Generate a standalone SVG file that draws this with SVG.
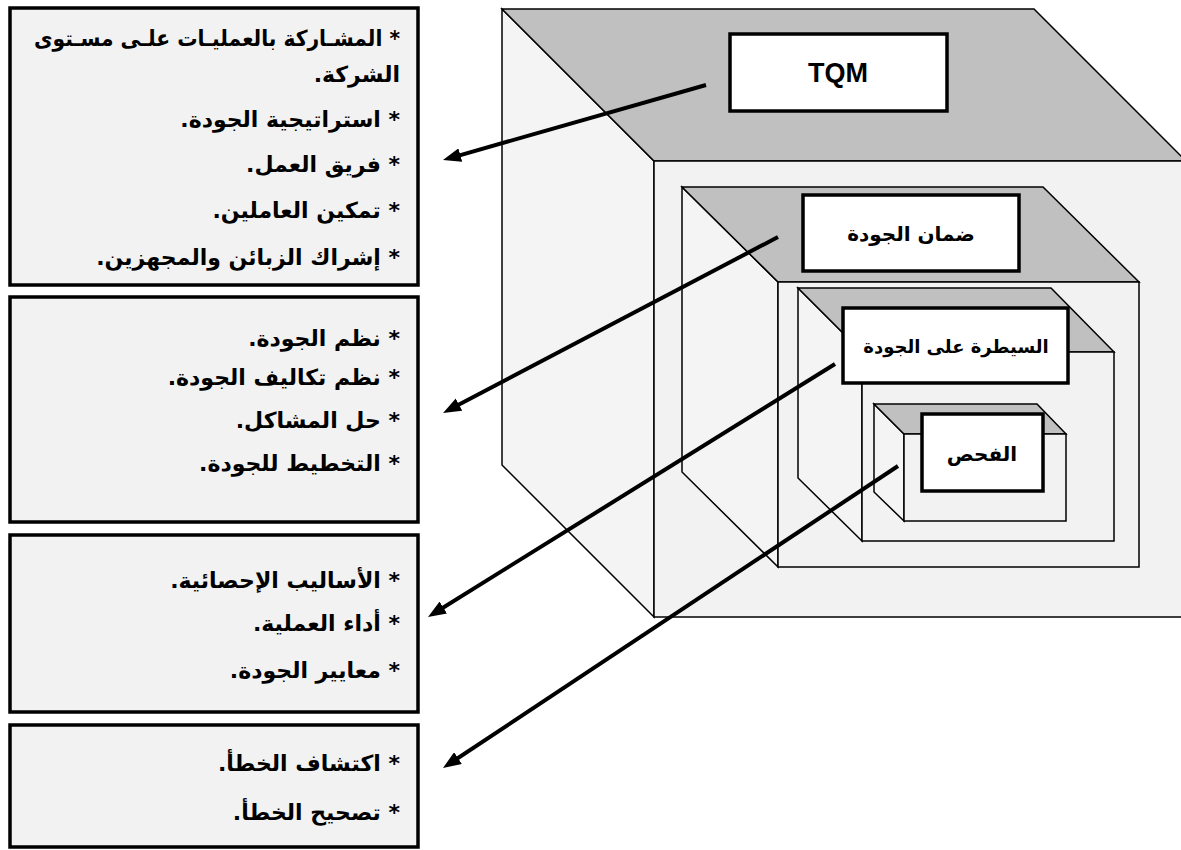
<svg xmlns="http://www.w3.org/2000/svg" width="1181" height="850" viewBox="0 0 1181 850">
<style>
.top{fill:#c0c0c0;stroke:#000;stroke-width:1.5;stroke-linejoin:miter}
.side{fill:#f4f4f4;stroke:#000;stroke-width:1.5}
.front{fill:#f2f2f2;stroke:#000;stroke-width:1.5}
.lbl{fill:#fff;stroke:#000;stroke-width:3.5}
.list{fill:#f2f2f2;stroke:#000;stroke-width:3.5}
.ar{font-family:"DejaVu Sans",sans-serif;font-weight:bold;fill:#000}
.lt{font-size:22px}
.bt{font-size:20px;text-anchor:middle}
.en{font-family:"Liberation Sans",Arial,sans-serif;font-weight:bold;font-size:27px;text-anchor:middle}
.arrow{stroke:#000;stroke-width:4;fill:none;marker-end:url(#ah)}
</style>
<defs>
<marker id="ah" markerUnits="userSpaceOnUse" markerWidth="18" markerHeight="14" viewBox="0 0 18 14" refX="8" refY="7" orient="auto">
<path d="M0,0 L18,7 L0,14 z" fill="#000"/>
</marker>
</defs>
<rect width="1181" height="850" fill="#fff"/>

<g id="cube-tqm">
<polygon class="side" points="502,9 654,161 654,617 502,465"/>
<polygon class="top" points="502,9 1034,9 1186,161 654,161"/>
<rect class="front" x="654" y="161" width="540" height="456"/>
</g>
<g id="cube-qa">
<polygon class="side" points="682,187 778,282 778,567 682,472"/>
<polygon class="top" points="682,187 1043,187 1139,282 778,282"/>
<rect class="front" x="778" y="282" width="361" height="285"/>
</g>
<g id="cube-qc">
<polygon class="side" points="798,288 862,352 862,541 798,478"/>
<polygon class="top" points="798,288 1051,288 1114,352 862,352"/>
<rect class="front" x="862" y="352" width="252" height="189"/>
</g>
<g id="cube-insp">
<polygon class="side" points="874,404 904,434 904,521 874,492"/>
<polygon class="top" points="874,404 1037,404 1066,434 904,434"/>
<rect class="front" x="904" y="434" width="162" height="87"/>
</g>

<g id="node-tqm">
<rect class="lbl" x="730" y="34" width="217" height="77"/>
<text class="en" x="838" y="82">TQM</text>
</g>
<g id="node-qa">
<rect class="lbl" x="803" y="195" width="216" height="76"/>
<text class="ar bt" x="911" y="241">ضمان الجودة</text>
</g>
<g id="node-qc">
<rect class="lbl" x="843" y="308" width="225" height="75"/>
<text class="ar bt" x="956" y="353" style="font-size:18px">السيطرة على الجودة</text>
</g>
<g id="node-insp">
<rect class="lbl" x="922" y="414" width="121" height="77"/>
<text class="ar bt" x="982" y="461">الفحص</text>
</g>

<g id="list-1">
<rect class="list" x="10" y="8" width="408" height="277"/>
<text class="ar lt" direction="rtl" x="400" y="46" textLength="366" lengthAdjust="spacingAndGlyphs">* المشـاركة بالعمليـات علـى مسـتوى</text>
<text class="ar lt" direction="rtl" x="400" y="82">الشركة.</text>
<text class="ar lt" direction="rtl" x="400" y="127">* استراتيجية الجودة.</text>
<text class="ar lt" direction="rtl" x="400" y="172">* فريق العمل.</text>
<text class="ar lt" direction="rtl" x="400" y="218">* تمكين العاملين.</text>
<text class="ar lt" direction="rtl" x="400" y="265">* إشراك الزبائن والمجهزين.</text>
</g>
<g id="list-2">
<rect class="list" x="10" y="297" width="408" height="225"/>
<text class="ar lt" direction="rtl" x="400" y="346">* نظم الجودة.</text>
<text class="ar lt" direction="rtl" x="400" y="385">* نظم تكاليف الجودة.</text>
<text class="ar lt" direction="rtl" x="400" y="428">* حل المشاكل.</text>
<text class="ar lt" direction="rtl" x="400" y="471">* التخطيط للجودة.</text>
</g>
<g id="list-3">
<rect class="list" x="10" y="535" width="408" height="177"/>
<text class="ar lt" direction="rtl" x="400" y="588">* الأساليب الإحصائية.</text>
<text class="ar lt" direction="rtl" x="400" y="631">* أداء العملية.</text>
<text class="ar lt" direction="rtl" x="400" y="678">* معايير الجودة.</text>
</g>
<g id="list-4">
<rect class="list" x="10" y="725" width="408" height="122"/>
<text class="ar lt" direction="rtl" x="400" y="771">* اكتشاف الخطأ.</text>
<text class="ar lt" direction="rtl" x="400" y="820">* تصحيح الخطأ.</text>
</g>

<g id="connectors">
<line class="arrow" x1="706" y1="85" x2="452.6" y2="157.3"/>
<line class="arrow" x1="778" y1="237" x2="451.9" y2="408.3"/>
<line class="arrow" x1="835" y1="364" x2="436.5" y2="611.7"/>
<line class="arrow" x1="898" y1="466" x2="451.3" y2="762.5"/>
</g>
</svg>
